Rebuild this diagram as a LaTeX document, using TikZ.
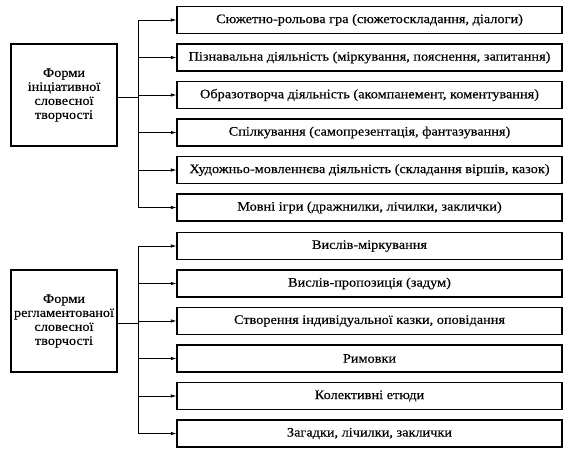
\documentclass[tikz,border=0pt]{standalone}
\usepackage{fontspec}
\setmainfont{Liberation Serif}[FakeStretch=1.1, FakeBold=0.3]
\usetikzlibrary{arrows.meta}

\begin{document}
\begin{tikzpicture}[x=1pt, y=-1pt,
  formbox/.style={draw, line width=1.3pt, minimum width=106pt, minimum height=102pt,
    align=center, inner sep=0pt, font=\fontsize{13}{14}\selectfont},
  kindbox/.style={draw, line width=1.3pt, minimum width=385pt, minimum height=27pt,
    inner sep=1pt, font=\fontsize{13}{14}\selectfont},
  link/.style={line width=0.7pt, -{Latex[length=5.5pt,width=3.5pt]}}]
\useasboundingbox (0,0) rectangle (574,456);

% initiative forms
\node[formbox] (ini) at (64,95) {Форми\\ініціативної\\словесної\\творчості};
\coordinate (it) at (138,97);

\node[kindbox] (i1) at (369.5,20) {Сюжетно-рольова гра (сюжетоскладання, діалоги)};
\node[kindbox] (i2) at (369.5,57.5) {Пізнавальна діяльність (міркування, пояснення, запитання)};
\node[kindbox] (i3) at (369.5,95) {Образотворча діяльність (акомпанемент, коментування)};
\node[kindbox] (i4) at (369.5,132.5) {Спілкування (самопрезентація, фантазування)};
\node[kindbox] (i5) at (369.5,170) {Художньо-мовленнєва діяльність (складання віршів, казок)};
\node[kindbox] (i6) at (369.5,207.5) {Мовні ігри (дражнилки, лічилки, заклички)};

\draw[line width=0.7pt] (ini.east |- it) -- (it);
\draw[line width=0.7pt] (it |- i1) -- (it |- i6);
\foreach \n in {i1,i2,i3,i4,i5,i6}
  \draw[link] (it |- \n) -- (\n.west);

% regulated forms
\node[formbox] (reg) at (64,321) {Форми\\регламентованої\\словесної\\творчості};
\coordinate (rt) at (138,323);

\node[kindbox] (r1) at (369.5,246) {Вислів-міркування};
\node[kindbox] (r2) at (369.5,283.5) {Вислів-пропозиція (задум)};
\node[kindbox] (r3) at (369.5,321) {Створення індивідуальної казки, оповідання};
\node[kindbox] (r4) at (369.5,358.5) {Римовки};
\node[kindbox] (r5) at (369.5,396) {Колективні етюди};
\node[kindbox] (r6) at (369.5,433.5) {Загадки, лічилки, заклички};

\draw[line width=0.7pt] (reg.east |- rt) -- (rt);
\draw[line width=0.7pt] (rt |- r1) -- (rt |- r6);
\foreach \n in {r1,r2,r3,r4,r5,r6}
  \draw[link] (rt |- \n) -- (\n.west);

\end{tikzpicture}
\end{document}
